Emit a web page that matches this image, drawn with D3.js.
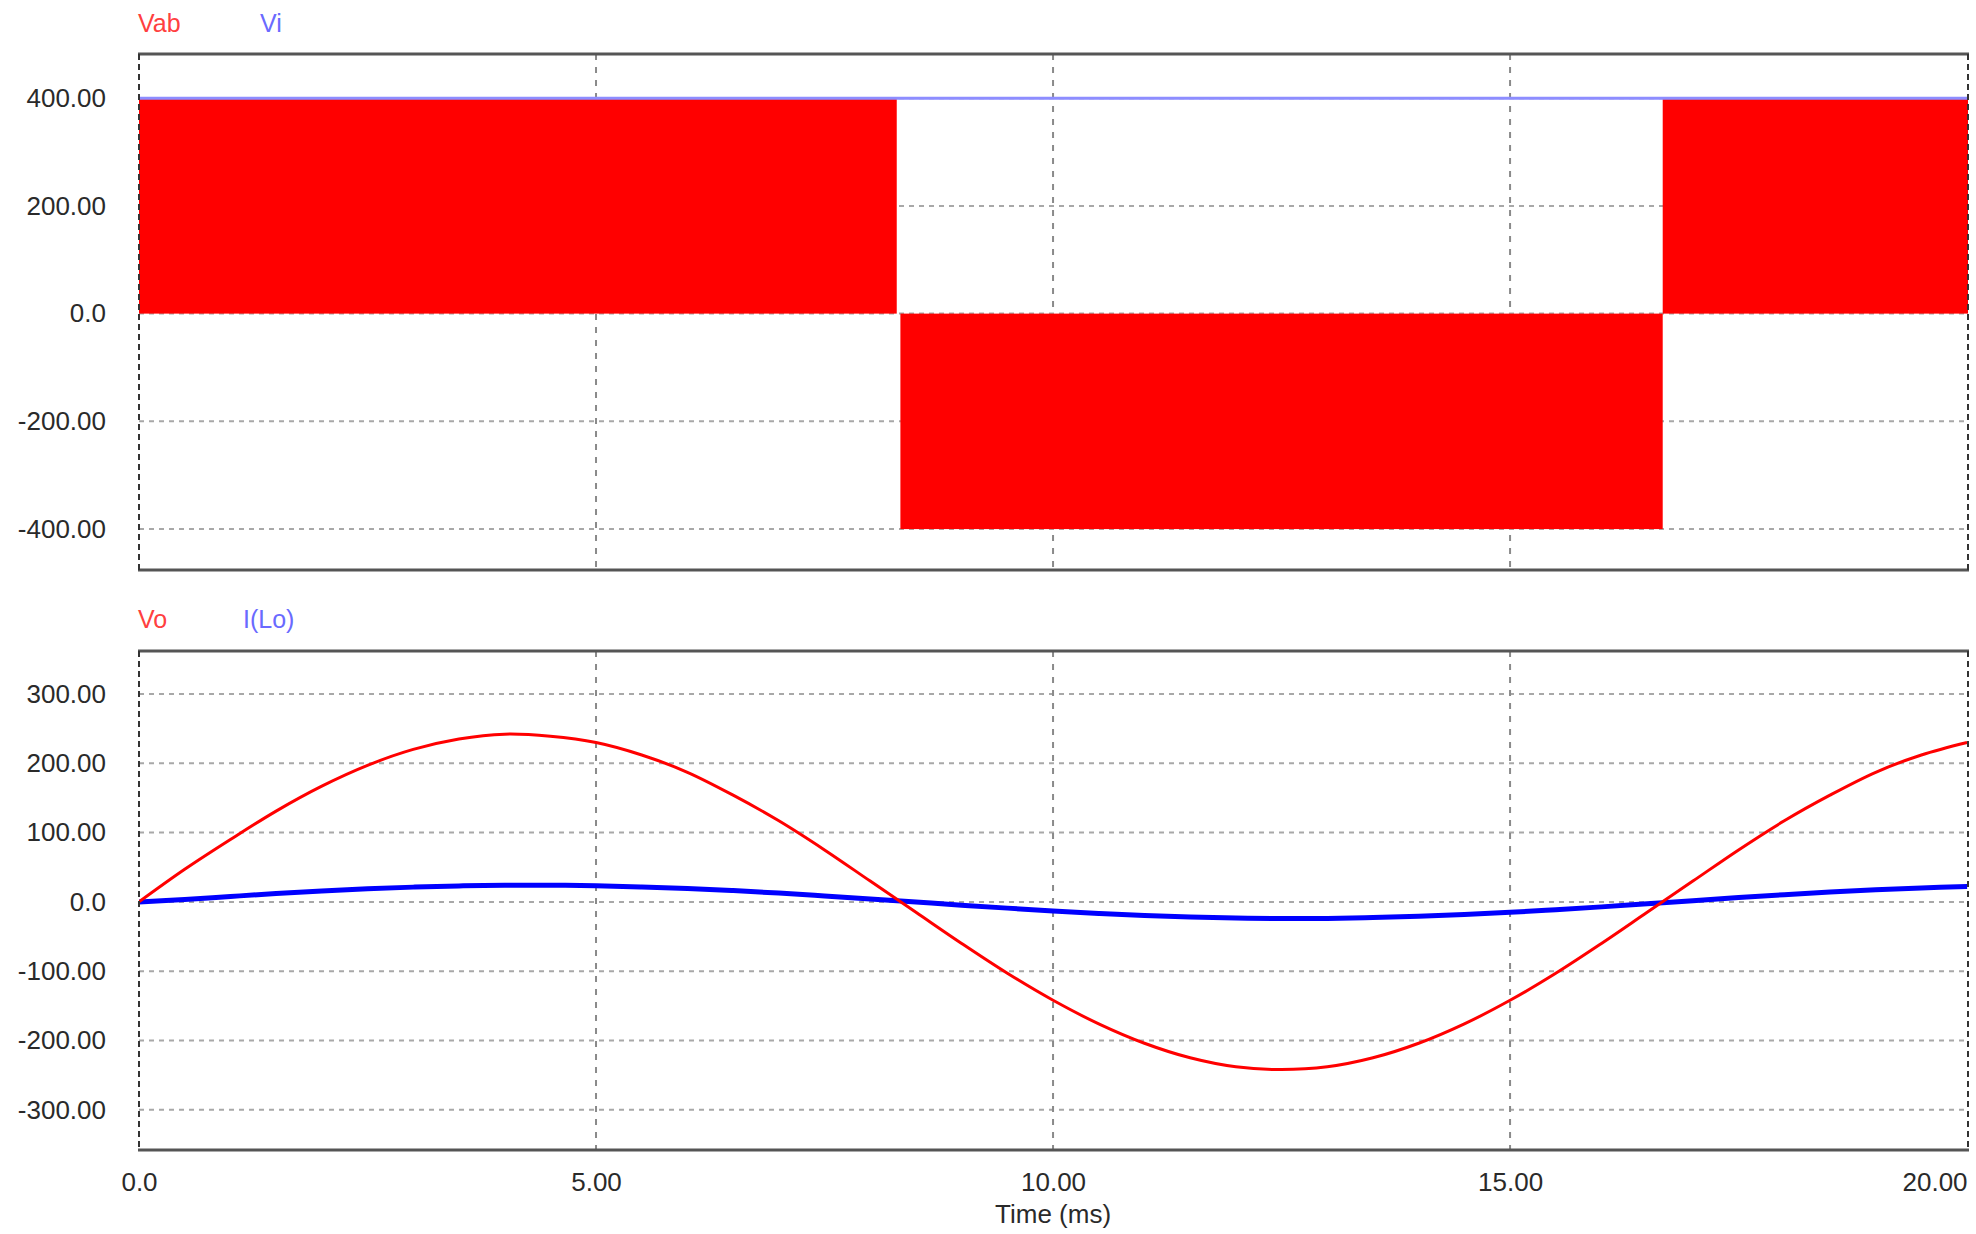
<!DOCTYPE html>
<html lang="en">
<head>
<meta charset="UTF-8">
<title>Vab / Vo waveforms</title>
<script src="https://d3js.org/d3.v7.min.js"></script>
<style>
  body { margin: 0; background: #fff; }
</style>
</head>
<body>
<div id="my_dataviz"></div>
<script>

// time axis (ms), shared by both panels
var timeTicks = [0, 5, 10, 15, 20]
var timeTickLabels = ["0.0", "5.00", "10.00", "15.00", "20.00"]

// top panel: Vab switches so fast it shows up as solid blocks
var vabStart = [0, 8.33, 16.67]
var vabEnd = [8.29, 16.67, 20.01]
var vabLevel = [400, -400, 400]
var viTime = [0, 20.01]
var viValue = [400, 400]
var topTicks = [400, 200, 0, -200, -400]
var topTickLabels = ["400.00", "200.00", "0.0", "-200.00", "-400.00"]

var sampleTime = [0, 0.5, 1, 1.5, 2, 2.5, 3, 3.5, 4, 4.5, 5, 5.5, 6, 6.5, 7, 7.5, 8, 8.5, 9, 9.5,
  10, 10.5, 11, 11.5, 12, 12.5, 13, 13.5, 14, 14.5, 15, 15.5, 16, 16.5, 17, 17.5, 18, 18.5, 19, 19.5, 20]
var voValue = [0, 47, 90, 131, 167, 197, 220, 235, 242, 239, 230, 212, 187, 154, 117, 75, 30, -15, -60, -103,
  -142, -176, -204, -225, -238, -242, -238, -225, -204, -176, -142, -103, -60, -15, 30, 75, 117, 154, 187, 212, 230]
var iloValue = [0, 3.5, 7.8, 12, 15.7, 18.8, 21.3, 23, 23.9, 24, 23.2, 21.6, 19.3, 16.3, 12.7, 8.6, 4.3, -0.2, -4.7, -9,
  -13, -16.6, -19.6, -21.9, -23.4, -24, -23.8, -22.7, -20.9, -18.3, -15.1, -11.3, -7.2, -2.7, 1.8, 6.2, 10.4, 14.2, 17.5, 20.2, 22.2]
var bottomTicks = [300, 200, 100, 0, -100, -200, -300]
var bottomTickLabels = ["300.00", "200.00", "100.00", "0.0", "-100.00", "-200.00", "-300.00"]

var width = 1976
var height = 1234
var fontFamily = "'Liberation Sans', Arial, sans-serif"

var svg = d3.select("#my_dataviz")
  .append("svg")
    .attr("width", width)
    .attr("height", height)
    .style("display", "block")

svg.append("rect")
  .attr("width", width)
  .attr("height", height)
  .attr("fill", "#fff")

// both panels share the same time scale
var x = d3.scaleLinear()
  .domain([0, 20.01])
  .range([139, 1968])

var yTop = d3.scaleLinear()
  .domain([-476, 482])
  .range([570, 54])

var yBottom = d3.scaleLinear()
  .domain([-358, 362])
  .range([1150, 651])

// grid, y tick labels and clip for one panel
function drawPanel(name, y, ticks, tickLabels) {
  var top = y.range()[1], bottom = y.range()[0]
  var left = x.range()[0], right = x.range()[1]

  svg.append("clipPath")
    .attr("id", "clip-" + name)
    .append("rect")
      .attr("x", left)
      .attr("y", top)
      .attr("width", right - left)
      .attr("height", bottom - top)

  var g = svg.append("g")

  // horizontal grid
  g.selectAll(".hgrid")
    .data(ticks)
    .enter()
    .append("line")
      .attr("x1", left)
      .attr("x2", right)
      .attr("y1", function(d) { return y(d) })
      .attr("y2", function(d) { return y(d) })
      .attr("stroke", "#a8a8a8")
      .attr("stroke-width", 2)
      .attr("stroke-dasharray", "5,5")

  // vertical grid
  g.selectAll(".vgrid")
    .data(timeTicks.slice(1, -1))
    .enter()
    .append("line")
      .attr("x1", function(d) { return x(d) })
      .attr("x2", function(d) { return x(d) })
      .attr("y1", top)
      .attr("y2", bottom)
      .attr("stroke", "#8a8a8a")
      .attr("stroke-width", 2)
      .attr("stroke-dasharray", "6,7")

  // y labels
  var axis = svg.append("g")
    .attr("transform", "translate(" + left + ",0)")
    .call(d3.axisLeft(y)
      .tickValues(ticks)
      .tickSize(0)
      .tickPadding(33)
      .tickFormat(function(d, i) { return tickLabels[i] }))
  axis.select(".domain").remove()
  axis.selectAll("text")
    .attr("font-size", 26)
    .attr("font-family", fontFamily)
    .attr("fill", "#2a2a2a")

  return g
}

// frame drawn last so it sits on top of the data
function drawFrame(y) {
  var top = y.range()[1], bottom = y.range()[0]
  var left = x.range()[0], right = x.range()[1]
  var f = svg.append("g")
  f.selectAll(".hb")
    .data([top, bottom])
    .enter()
    .append("line")
      .attr("x1", left - 1)
      .attr("x2", right + 1)
      .attr("y1", function(d) { return d })
      .attr("y2", function(d) { return d })
      .attr("stroke", "#555")
      .attr("stroke-width", 3)
  f.selectAll(".vb")
    .data([left, right])
    .enter()
    .append("line")
      .attr("x1", function(d) { return d })
      .attr("x2", function(d) { return d })
      .attr("y1", top)
      .attr("y2", bottom)
      .attr("stroke", "#333")
      .attr("stroke-width", 2)
      .attr("stroke-dasharray", "6,4")
}

function legend(y, items) {
  svg.selectAll(null)
    .data(items)
    .enter()
    .append("text")
      .attr("x", function(d) { return d.x })
      .attr("y", y)
      .attr("font-size", 25)
      .attr("font-family", fontFamily)
      .attr("fill", function(d) { return d.color })
      .text(function(d) { return d.name })
}

// ---- top panel: Vab, Vi ----
drawPanel("top", yTop, topTicks, topTickLabels)

var vabData = vabStart.map(function(s, i) { return {s: s, e: vabEnd[i], v: vabLevel[i]} })
svg.append("g")
  .attr("clip-path", "url(#clip-top)")
  .selectAll("rect")
  .data(vabData)
  .enter()
  .append("rect")
    .attr("x", function(d) { return x(d.s) })
    .attr("width", function(d) { return x(d.e) - x(d.s) })
    .attr("y", function(d) { return yTop(Math.max(0, d.v)) })
    .attr("height", function(d) { return Math.abs(yTop(d.v) - yTop(0)) })
    .attr("fill", "#ff0000")

var viLine = d3.line()
  .x(function(d, i) { return x(viTime[i]) })
  .y(function(d) { return yTop(d) })
svg.append("path")
  .attr("clip-path", "url(#clip-top)")
  .attr("d", viLine(viValue))
  .attr("fill", "none")
  .attr("stroke", "#8d8dff")
  .attr("stroke-width", 3)

drawFrame(yTop)
legend(32, [{name: "Vab", x: 138, color: "#ff4040"}, {name: "Vi", x: 260, color: "#6a6aff"}])

// ---- bottom panel: Vo, I(Lo) ----
drawPanel("bottom", yBottom, bottomTicks, bottomTickLabels)

var bottomLine = d3.line()
  .x(function(d, i) { return x(sampleTime[i]) })
  .y(function(d) { return yBottom(d) })
  .curve(d3.curveCatmullRom)

svg.append("path")
  .attr("clip-path", "url(#clip-bottom)")
  .attr("d", bottomLine(iloValue))
  .attr("fill", "none")
  .attr("stroke", "#0000ff")
  .attr("stroke-width", 5)

svg.append("path")
  .attr("clip-path", "url(#clip-bottom)")
  .attr("d", bottomLine(voValue))
  .attr("fill", "none")
  .attr("stroke", "#ff0000")
  .attr("stroke-width", 3)

drawFrame(yBottom)
legend(628, [{name: "Vo", x: 138, color: "#ff4040"}, {name: "I(Lo)", x: 243, color: "#6a6aff"}])

// time axis under the bottom panel
var xAxis = svg.append("g")
  .attr("transform", "translate(0," + yBottom.range()[0] + ")")
  .call(d3.axisBottom(x)
    .tickValues(timeTicks)
    .tickSize(0)
    .tickPadding(23)
    .tickFormat(function(d, i) { return timeTickLabels[i] }))
xAxis.select(".domain").remove()
xAxis.selectAll("text")
  .attr("font-size", 26)
  .attr("font-family", fontFamily)
  .attr("fill", "#2a2a2a")
  .attr("text-anchor", function(d, i) { return i == timeTicks.length - 1 ? "end" : "middle" })

svg.append("text")
  .attr("x", x(10))
  .attr("y", 1223)
  .attr("text-anchor", "middle")
  .attr("font-size", 26)
  .attr("font-family", fontFamily)
  .attr("fill", "#2a2a2a")
  .text("Time (ms)")

</script>
</body>
</html>
